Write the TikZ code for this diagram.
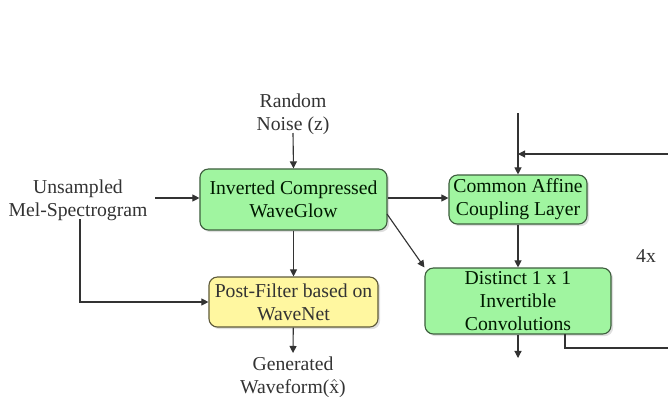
\documentclass[tikz,border=0pt]{standalone}
\usepackage{fontspec}
\setmainfont{Liberation Serif}
\usetikzlibrary{arrows.meta,shadows}

\definecolor{boxgreen}{HTML}{A0F5A0}
\definecolor{boxyellow}{HTML}{FFF7A0}
\definecolor{edgegreen}{HTML}{3E5E3E}
\definecolor{edgeyellow}{HTML}{5E5A3A}
\definecolor{txtgray}{HTML}{333333}

\tikzset{
  block/.style={draw=edgegreen, fill=boxgreen, rounded corners=6pt, thick,
    align=center, text=black!75!green!40!black, inner sep=2pt,
    drop shadow={opacity=0.25, shadow xshift=1.5pt, shadow yshift=-1.5pt}},
  filterblock/.style={block, draw=edgeyellow, fill=boxyellow, text=txtgray},
  label/.style={align=center, text=txtgray},
  flow/.style={-{Triangle[length=5pt,width=5pt]}, thick, black!80},
  wire/.style={thick, black!80}
}

\begin{document}
\begin{tikzpicture}[x=0.025cm, y=-0.025cm, font=\fontsize{14}{16.5}\selectfont]

\useasboundingbox (0,0) rectangle (668,396);

% inputs and output texts
\node [label] (noise) at (293,114) {Random\\Noise (z)};
\node [label] (mel) at (78,200) {Unsampled\\Mel-Spectrogram};
\node [label] (wave) at (293,377) {Generated\\Waveform($\hat{\mathrm{x}}$)};

% main blocks
\node [block, minimum width=4.675cm, minimum height=1.525cm] (icw) at (293.5,199.5) {Inverted Compressed\\WaveGlow};
\node [filterblock, minimum width=4.225cm, minimum height=1.25cm] (post) at (293.5,302) {Post-Filter based on\\WaveNet};

% flow step blocks
\node [block, minimum width=3.45cm, minimum height=1.225cm] (affine) at (518,199.5) {Common Affine\\Coupling Layer};
\node [block, minimum width=4.65cm, minimum height=1.65cm] (conv) at (518,301) {Distinct 1 x 1\\Invertible\\Convolutions};

\node [label] (rep) at (646,256) {4x};

\coordinate (top) at (518,113);
\coordinate (loopin) at (668,154);
\coordinate (loopout) at (668,348);
\coordinate (bottom) at (518,358);
\coordinate (post out) at (293,353);

% connections
\draw [flow] (293,133) -- (icw.north);
\draw [flow] (155,198) -- (icw.west |- 0,198);
\draw [flow] (80,219) |- (post.west);
\draw [flow] (icw) -- (post);
\draw [flow] (post) -- (post out);
\draw [flow] (icw.east |- 0,198) -- (affine.west |- 0,198);
\draw [flow] (387,214) -- (conv.north west);
\draw [flow] (top) -- (affine.north);
\draw [flow] (loopin) -- (top |- loopin);
\draw [flow] (affine) -- (conv);
\draw [flow] (conv) -- (bottom);
\draw [wire] (565,334) |- (loopout);

\end{tikzpicture}
\end{document}
